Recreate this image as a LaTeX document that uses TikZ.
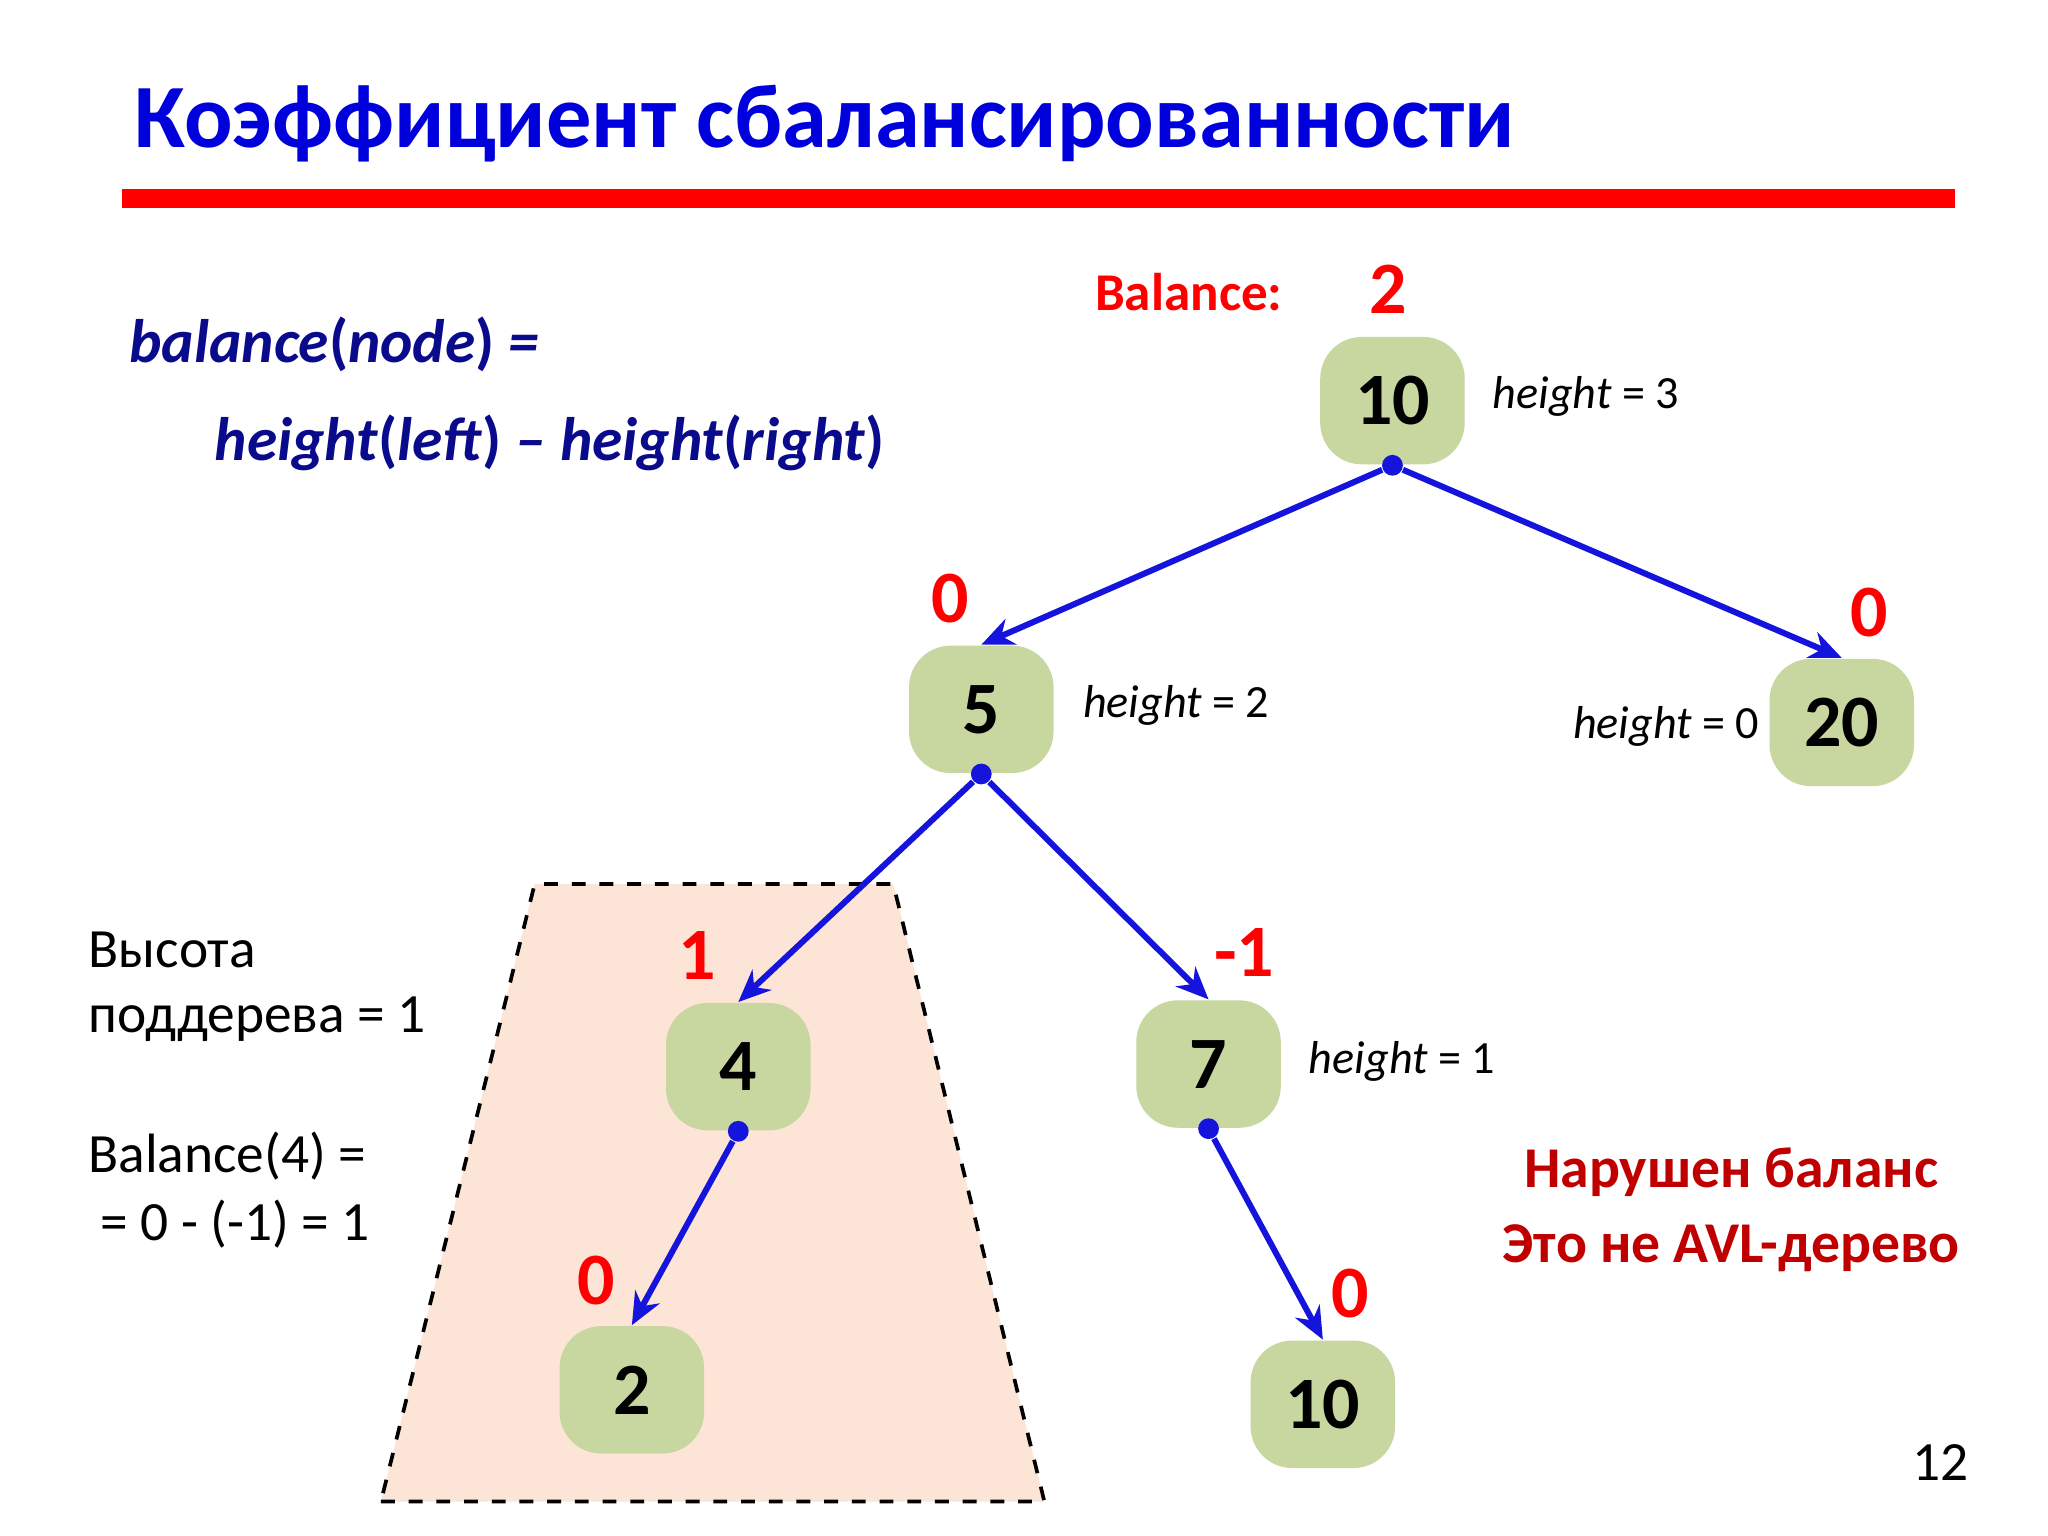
\documentclass[tikz,border=0pt]{standalone}
\usetikzlibrary{arrows.meta}
\usepackage{fontspec}
\setmainfont{Carlito}
\definecolor{ttl}{RGB}{0,0,220}
\definecolor{frm}{RGB}{10,10,140}
\definecolor{nodeg}{RGB}{200,215,160}
\definecolor{trap}{RGB}{252,229,214}
\definecolor{dred}{RGB}{192,0,0}
\definecolor{edg}{RGB}{20,20,220}
\begin{document}
\begin{tikzpicture}[x=0.1mm,y=-0.1mm,
  tn/.style={fill=nodeg,rounded corners=9pt,inner sep=0pt,minimum width=11mm,minimum height=9.7mm,font=\fontsize{16}{18}\selectfont\bfseries,align=center},
  bal/.style={text=red,font=\fontsize{16}{18}\selectfont\bfseries},
  hl/.style={anchor=west,font=\fontsize{10}{12}\selectfont},
  lt/.style={anchor=west,font=\fontsize{12}{14}\selectfont},
  ed/.style={edg,line width=1.3pt,-{Stealth[length=7pt,width=6pt]}},
  dt/.style={circle,fill=edg,inner sep=0pt,minimum size=4.5pt}]
\useasboundingbox[fill=white] (0,0) rectangle (1559,1169);
\node[anchor=base west,text=ttl,font=\fontsize{19.6}{22}\selectfont\bfseries] (title) at (90,112) {Коэффициент сбалансированности};
\draw[red,line width=1.4mm] (93,151) -- (1488,151);
\node[anchor=west,text=frm,font=\fontsize{13.3}{16}\selectfont\bfseries\itshape] (f1) at (86,262) {balance\textup{(}node\textup{)} =};
\node[anchor=west,text=frm,font=\fontsize{13.3}{16}\selectfont\bfseries\itshape] (f2) at (151,337) {height\textup{(}left\textup{)} – height\textup{(}right\textup{)}};
\fill[trap,draw=black,dashed,thick] (290,1143) -- (795,1143) -- (680,673) -- (407,673) -- cycle;
\node[tn] (n10) at (1060,305) {10};
\node[tn] (n5) at (747,540) {5};
\node[tn] (n20) at (1402,550) {20};
\node[tn] (n4) at (562,812) {4};
\node[tn] (n7) at (920,810) {7};
\node[tn] (n2) at (481,1058) {2};
\node[tn] (n10b) at (1007,1069) {10};
\node[dt] (d10) at (n10.south) {};
\node[dt] (d5) at (n5.south) {};
\node[dt] (d4) at (n4.south) {};
\node[dt] (d7) at (n7.south) {};
\draw[ed] (d10) -- (n5.north);
\draw[ed] (d10) -- (n20.north);
\draw[ed] (d5) -- (n4.north);
\draw[ed] (d5) -- (n7.north);
\draw[ed] (d4) -- (n2.north);
\draw[ed] (d7) -- (n10b.north);
\node[text=red,font=\fontsize{11.5}{14}\selectfont\bfseries] (bl) at (905,222) {Balance:};
\node[bal] (b10) at (1057,220) {2};
\node[bal] (b5) at (723,456) {0};
\node[bal] (b20) at (1423,466) {0};
\node[bal] (b4) at (531,727) {1};
\node[bal] (b7) at (947,725) {-1};
\node[bal] (b2) at (454,975) {0};
\node[bal] (b10b) at (1028,985) {0};
\node[hl] (h10) at (1124,302) {\textit{height} = 3};
\node[hl] (h5) at (812,537) {\textit{height} = 2};
\node[hl] (h20) at (1185,553) {\textit{height} = 0};
\node[hl] (h7) at (984,808) {\textit{height} = 1};
\node[lt] (t1) at (55,723) {Высота};
\node[lt] (t2) at (55,776) {поддерева = 1};
\node[lt] (t3) at (55,880) {Balance(4) =};
\node[lt] (t4) at (64,932) {= 0 - (-1) = 1};
\node[text=dred,font=\fontsize{12.5}{15.5}\selectfont\bfseries,align=center] (warn) at (1318,921) {Нарушен баланс\\[0.3mm]Это не AVL-дерево};
\node[font=\fontsize{12}{14}\selectfont] (pg) at (1477,1113) {12};
\end{tikzpicture}
\end{document}
